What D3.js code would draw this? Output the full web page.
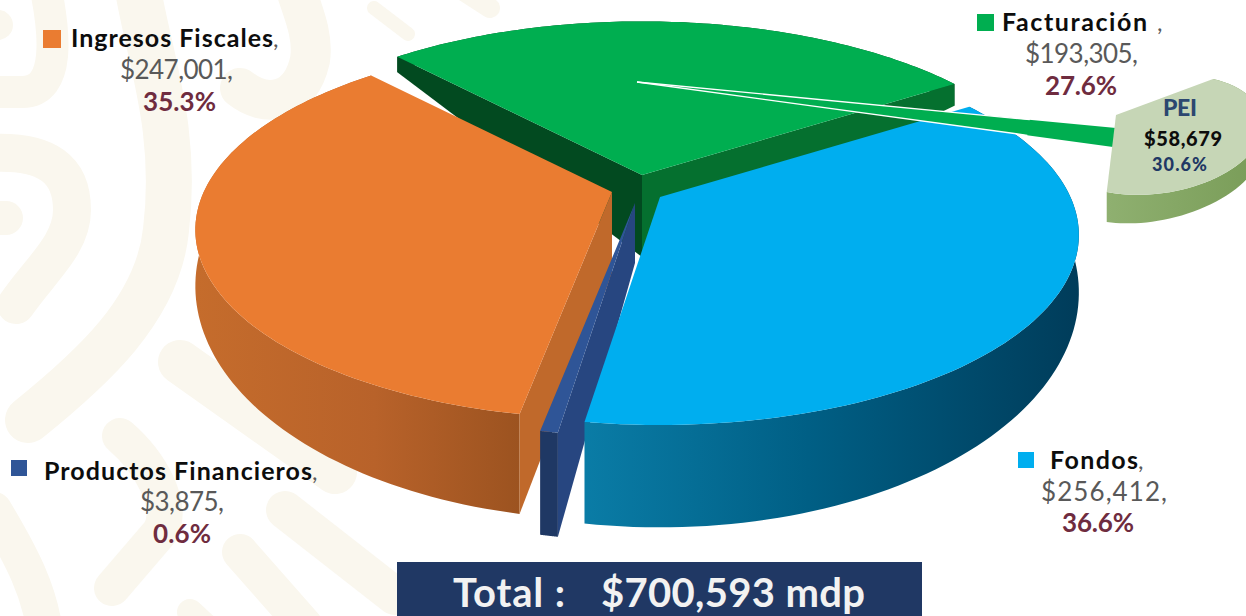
<!DOCTYPE html>
<html lang="es">
<head>
<meta charset="utf-8">
<title>Ingresos 2021</title>
<script src="https://cdn.jsdelivr.net/npm/d3@7"></script>
<style>
  html, body { margin: 0; padding: 0; background: #fff; }
  svg { display: block; }
  text { font-family: Lato, "Open Sans", sans-serif; }
</style>
</head>
<body>
<svg id="chart" width="1246" height="616"></svg>
<script>
// Slices in drawing order around the disc, clockwise from the back left.
const categories = ["Facturación", "Fondos", "Productos Financieros", "Ingresos Fiscales"];
const amounts = [193305, 256412, 3875, 247001];
const sliceColors = ["#00ae50", "#00aeef", "#2f5597", "#ea7c31"];
const peiName = "PEI";
const peiAmount = 58679;
const peiShare = 30.6;

const W = 1246, H = 616;
const svg = d3.select("#chart").attr("viewBox", [0, 0, W, H]);
const deg = Math.PI / 180;

// Perspective of the disc: unit circle to screen, nearer points drawn larger.
const persp = { A: 432, B: 192, k: 0.2 };
function project(angle, scale) {
  const X = Math.sin(angle), Y = -Math.cos(angle), w = 1 - persp.k * Y;
  return [persp.A * scale * X / w, persp.B * scale * Y / w];
}

// Exploded position of each slice and its wall shades.
const layout = [
  { dx: 642, dy: 175, r: 0.96, apexDepth: 82, wallFill: "#034f22", startWall: "#024a20", endWall: "#05702f" },
  { dx: 660, dy: 197, r: 0.95, apexDepth: 60, wallFill: "url(#blueWall)" },
  { dx: 635, dy: 203, r: 0.97, apexDepth: 60, wallFill: "#1f3864", startWall: "#274680" },
  { dx: 612, dy: 192, r: 0.945, apexDepth: 82, wallFill: "url(#orangeWall)", startWall: "#c0692b" }
];

const rimDepth = d3.scaleLinear().domain([55, 415]).range([15, 100]);
const lineGen = d3.line();

const defs = svg.append("defs");
function wallGradient(id, x1, x2, stops) {
  const g = defs.append("linearGradient").attr("id", id)
    .attr("gradientUnits", "userSpaceOnUse")
    .attr("x1", x1).attr("x2", x2).attr("y1", 0).attr("y2", 0);
  stops.forEach(([o, c]) => g.append("stop").attr("offset", o).attr("stop-color", c));
}
wallGradient("orangeWall", 197, 520, [[0, "#c56c2c"], [0.55, "#b8622a"], [1, "#9c5320"]]);
wallGradient("blueWall", 585, 1080, [[0, "#0a7ca6"], [0.45, "#005f85"], [1, "#003c5a"]]);
wallGradient("peiWall", 1107, 1246, [[0, "#8fb070"], [1, "#7b9e5a"]]);

// Pale ornamental bands behind the chart, as [path, width].
const ornament = [
  ["M46,-10 C54,30 62,92 22,92 L-10,92", 32],
  ["M-10,25 L-2,25", 30],
  ["M138,-10 C150,60 178,130 166,230 C158,310 90,370 28,420", 46],
  ["M240,88 C265,108 300,105 310,60 C314,35 302,10 296,-10", 40],
  ["M-10,153 C48,150 72,170 72,210 C72,245 40,270 16,305", 38],
  ["M-10,218 L6,218", 34],
  ["M180,362 L335,472", 44],
  ["M120,436 C150,462 175,505 160,532 L112,588", 36],
  ["M-6,510 C24,560 38,590 44,626", 36],
  ["M240,552 L305,626", 36],
  ["M285,510 L395,596", 38],
  ["M190,612 L205,626", 26],
  ["M374,8 L408,34", 14],
  ["M462,-10 L490,8", 20]
];
svg.append("g").attr("fill", "none").attr("stroke", "#faf7ee")
  .attr("stroke-linecap", "round").attr("stroke-linejoin", "round")
  .selectAll("path").data(ornament).join("path")
  .attr("d", d => d[0]).attr("stroke-width", d => d[1]);

// Pie angles come straight from the amounts.
const slices = d3.pie().sort(null).value(d => d)
  .startAngle(-42.6 * deg).endAngle((360 - 42.6) * deg)(amounts);

const chart = svg.append("g");
const drawOrder = [0, 3, 2, 1];

drawOrder.forEach(i => {
  const s = slices[i], L = layout[i];
  const samples = d3.range(0, 97).map(t => s.startAngle + (s.endAngle - s.startAngle) * t / 96);
  const top = samples.map(a => {
    const p = project(a, L.r);
    return [L.dx + p[0], L.dy + p[1]];
  });
  const drop = p => [p[0], p[1] + rimDepth(p[1])];
  const apex = [L.dx, L.dy], apexLow = [L.dx, L.dy + L.apexDepth];
  const g = chart.append("g");

  // Outer wall below the rim.
  g.append("path").attr("fill", L.wallFill)
    .attr("d", lineGen(top.concat(top.map(drop).reverse())) + "Z");

  // Cut faces along the two straight edges.
  if (L.startWall) {
    const rim = top[0];
    g.append("path").attr("fill", L.startWall)
      .attr("d", lineGen([apex, rim, drop(rim), apexLow]) + "Z");
  }
  if (L.endWall) {
    const rim = top[top.length - 1];
    g.append("path").attr("fill", L.endWall)
      .attr("d", lineGen([apex, rim, drop(rim), apexLow]) + "Z");
  }

  // Top face.
  g.append("path").attr("fill", sliceColors[i])
    .attr("d", lineGen([apex].concat(top)) + "Z");
});

// Thin wedge leading from the Facturación slice out to the PEI piece.
const leader = { apex: [637, 82], upper: [1116, 128], lower: [1113, 147] };
const callout = svg.append("g");
callout.append("path").attr("fill", "#00ae50")
  .attr("d", lineGen([leader.apex, leader.upper, leader.lower]) + "Z");
[leader.upper, leader.lower].forEach(end => {
  callout.append("path").attr("fill", "none").attr("stroke", "#fff").attr("stroke-width", 1.3)
    .attr("d", lineGen([leader.apex, [leader.apex[0] + (end[0] - leader.apex[0]) * 0.82,
                                       leader.apex[1] + (end[1] - leader.apex[1]) * 0.82]]));
});

// PEI piece: its sweep is its share of a full turn, seen through its own tilt.
const peiApex = [1116, 115];
const peiSweep = peiShare / 100 * 360 * deg;
function projectPei(t) {
  const u = Math.cos(t), v = Math.sin(t), w = 1 - 0.2116 * u - 0.53 * v;
  return [peiApex[0] + (76.5 * u + 22.4 * v) / w, peiApex[1] + (-28.4 * u + 36.7 * v) / w];
}
const peiArc = d3.range(0, 61).map(i => projectPei(peiSweep * i / 60));
const peiDrop = d3.scaleLinear().domain([1107, 1246]).range([30, 22]);
callout.append("path").attr("fill", "url(#peiWall)")
  .attr("d", lineGen(peiArc.concat(peiArc.map(p => [p[0], p[1] + peiDrop(p[0])]).reverse())) + "Z");
callout.append("path").attr("fill", "#c6d6b6")
  .attr("d", lineGen([peiApex].concat(peiArc)) + "Z");

// Text labels.
const money = d3.format("$,");
const pct = d3.format(".1%");
const total = d3.sum(amounts);
const nameColor = "#0d0d0d", amountColor = "#595959", shareColor = "#6f2c3f";

function label(txt, x, y, width, size, weight, fill) {
  return svg.append("text").attr("x", x).attr("y", y)
    .attr("font-size", size).attr("font-weight", weight).attr("fill", fill)
    .attr("textLength", width).attr("lengthAdjust", "spacing").text(txt);
}

const labelSpots = [
  { i: 3, sq: [43, 30, 18], name: [71, 47, 202], tail: [273, 47, ","], amount: [120, 79, 113], share: [143, 111, 73] },
  { i: 0, sq: [977, 14, 17], name: [1002, 31, 145], tail: [1157, 31, ","], amount: [1025, 63, 113], share: [1045, 95, 72] },
  { i: 1, sq: [1018, 452, 16], name: [1050, 469, 88], tail: [1138, 469, ","], amount: [1041, 501, 126], share: [1062, 532, 72] },
  { i: 2, sq: [11, 460, 16], name: [44, 480, 268], tail: [312, 480, ","], amount: [140, 511, 84], share: [153, 543, 58] }
];
labelSpots.forEach(d => {
  svg.append("rect").attr("x", d.sq[0]).attr("y", d.sq[1])
    .attr("width", d.sq[2]).attr("height", d.sq[2]).attr("fill", sliceColors[d.i]);
  label(categories[d.i], d.name[0], d.name[1], d.name[2], 25, 700, nameColor);
  svg.append("text").attr("x", d.tail[0]).attr("y", d.tail[1]).attr("font-size", 24)
    .attr("fill", amountColor).text(d.tail[2]);
  label(money(amounts[d.i]) + ",", d.amount[0], d.amount[1], d.amount[2], 26, 400, amountColor);
  label(pct(amounts[d.i] / total), d.share[0], d.share[1], d.share[2], 26, 700, shareColor);
});

label(peiName, 1163, 116, 34, 23, 900, "#2c4770");
label(money(peiAmount), 1144, 146, 78, 20, 900, "#0d0d0d");
label(peiShare + "%", 1152, 171, 55, 18, 900, "#1f3864");

// Total banner along the bottom edge.
svg.append("rect").attr("x", 397).attr("y", 562).attr("width", 525).attr("height", 54).attr("fill", "#203864");
svg.append("text").attr("x", 453).attr("y", 607).attr("font-size", 40).attr("font-weight", 700)
  .attr("fill", "#f2f2f2").attr("textLength", 112).text("Total :");
svg.append("text").attr("x", 601).attr("y", 607).attr("font-size", 40).attr("font-weight", 700)
  .attr("fill", "#f2f2f2").attr("textLength", 264).text(money(total) + " mdp");
</script>
</body>
</html>
